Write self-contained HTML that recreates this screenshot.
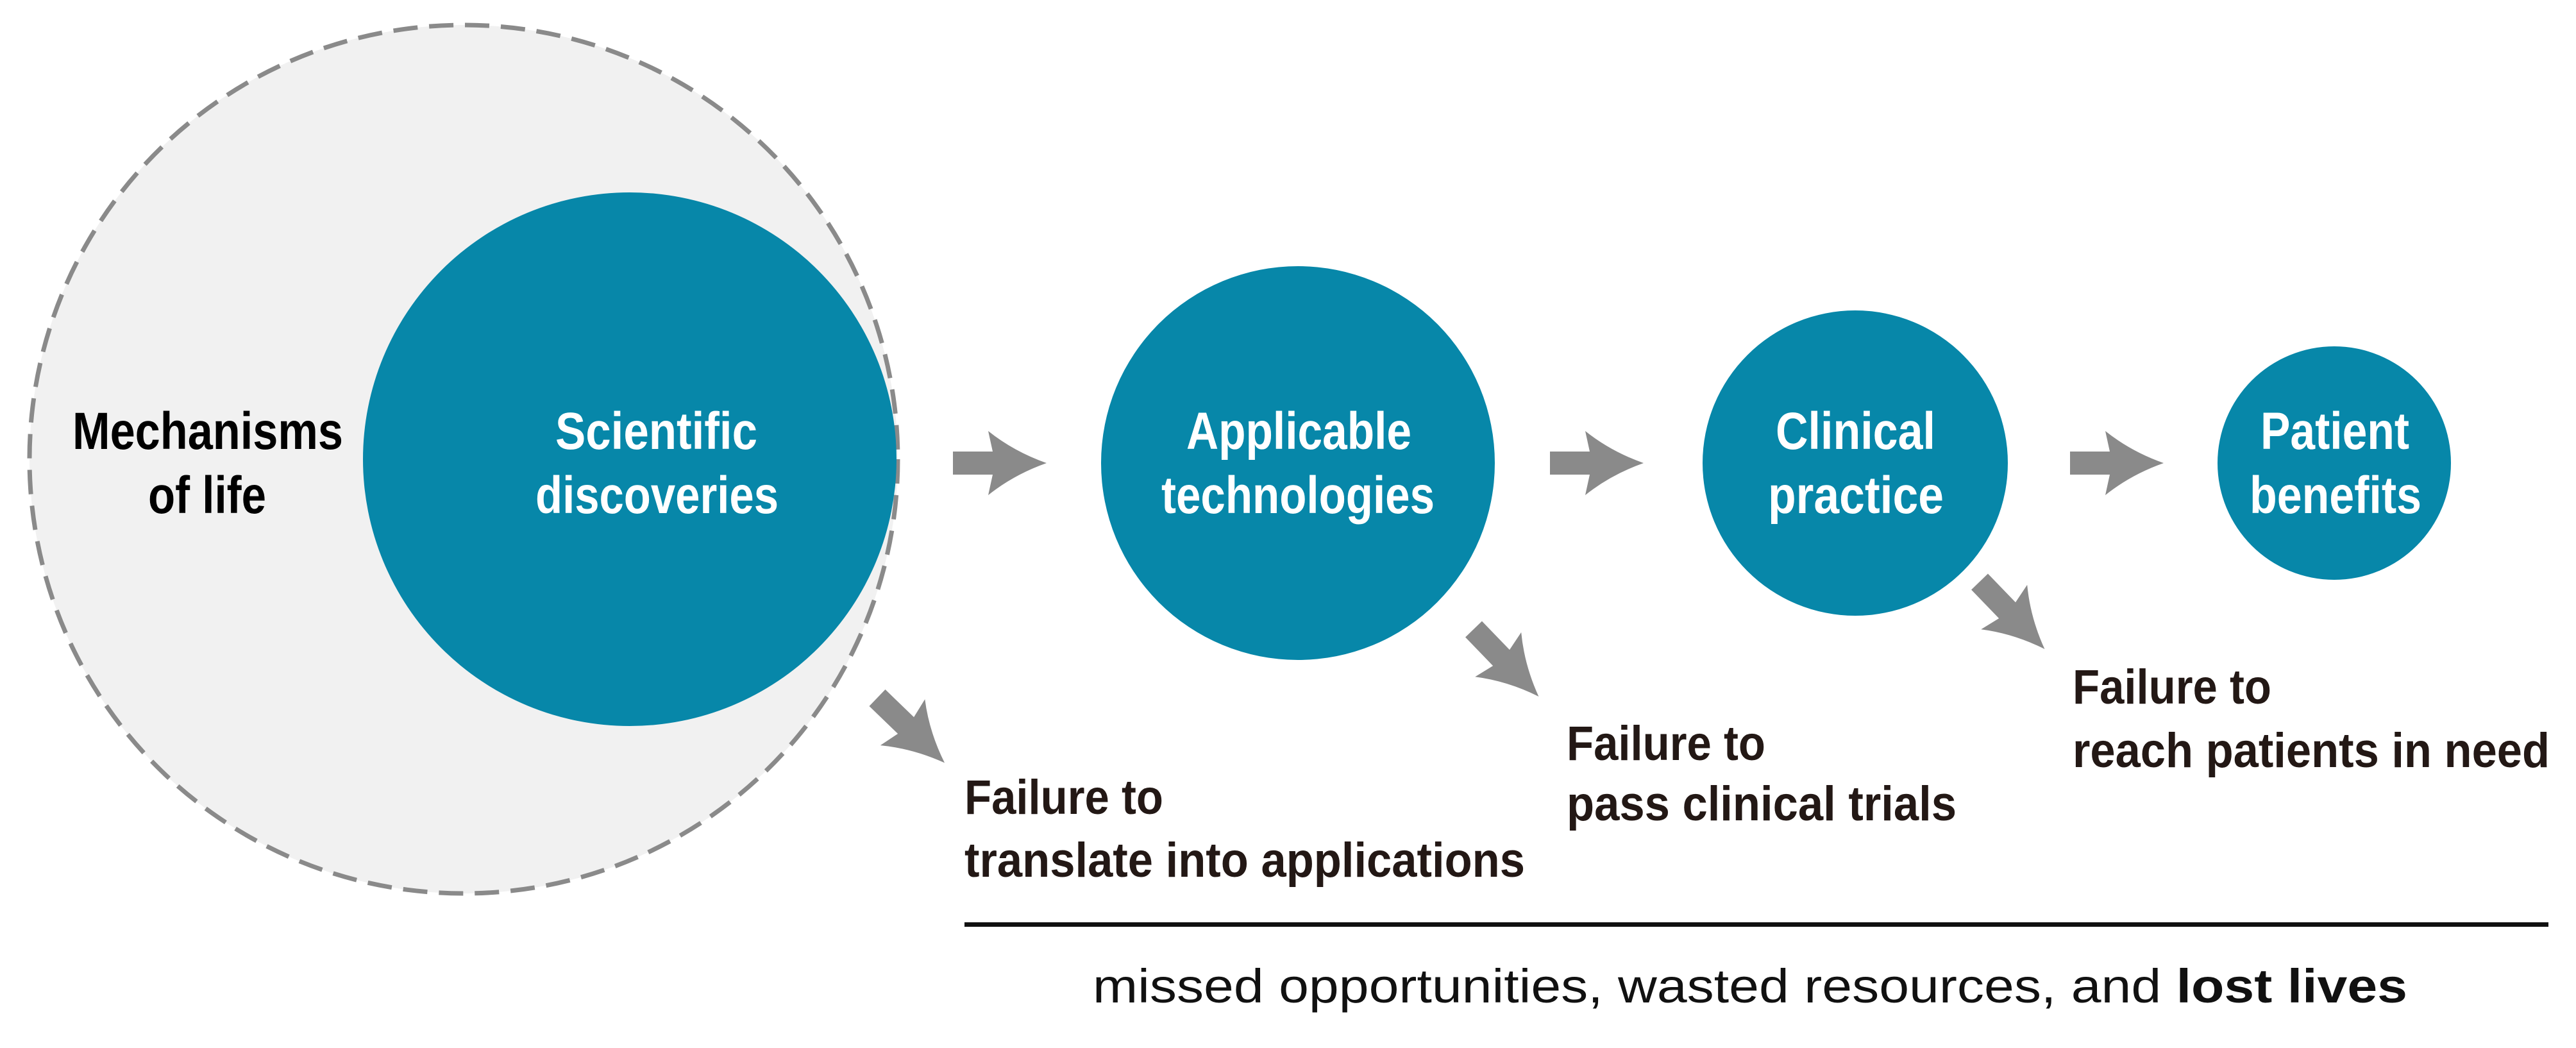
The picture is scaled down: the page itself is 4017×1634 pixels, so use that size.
<!DOCTYPE html>
<html><head><meta charset="utf-8"><style>
html,body{margin:0;padding:0;background:#fff;}
svg{display:block;}
.c{font-family:"Liberation Sans Narrow","Liberation Sans",sans-serif;font-weight:bold;font-size:82px;}
.f{font-family:"Liberation Sans Narrow","Liberation Sans",sans-serif;font-weight:bold;font-size:76px;fill:#231815;}
.b{font-family:"Liberation Sans",sans-serif;font-size:74px;fill:#111;}
</style></head><body>
<svg width="4017" height="1634" viewBox="0 0 4017 1634" xmlns="http://www.w3.org/2000/svg">
<defs>
<path id="arr" d="M0,-18 L62,-18 L55,-50 Q95,-18 146,0 Q95,18 55,50 L62,18 L0,18 Z" fill="#8a8a8a"/>
</defs>
<circle cx="723" cy="716" r="677" fill="#f1f1f1" stroke="#8a8a8a" stroke-width="7" stroke-dasharray="38 18"/>
<circle cx="982" cy="716" r="416" fill="#0787a9"/>
<circle cx="2024" cy="722" r="307" fill="#0787a9"/>
<circle cx="2893" cy="722" r="238" fill="#0787a9"/>
<circle cx="3640" cy="722" r="182" fill="#0787a9"/>

<text class="c" fill="#000" x="113" y="700" textLength="422" lengthAdjust="spacingAndGlyphs">Mechanisms</text>
<text class="c" fill="#000" x="231" y="800" textLength="184" lengthAdjust="spacingAndGlyphs">of life</text>
<g fill="#fff">
<text class="c" x="866" y="700" textLength="315" lengthAdjust="spacingAndGlyphs">Scientific</text>
<text class="c" x="835" y="800" textLength="379" lengthAdjust="spacingAndGlyphs">discoveries</text>
<text class="c" x="1850" y="700" textLength="351" lengthAdjust="spacingAndGlyphs">Applicable</text>
<text class="c" x="1811" y="800" textLength="426" lengthAdjust="spacingAndGlyphs">technologies</text>
<text class="c" x="2769" y="700" textLength="249" lengthAdjust="spacingAndGlyphs">Clinical</text>
<text class="c" x="2757" y="800" textLength="274" lengthAdjust="spacingAndGlyphs">practice</text>
<text class="c" x="3525" y="700" textLength="232" lengthAdjust="spacingAndGlyphs">Patient</text>
<text class="c" x="3508" y="800" textLength="268" lengthAdjust="spacingAndGlyphs">benefits</text>
</g>

<use href="#arr" transform="translate(1486,722)"/>
<use href="#arr" transform="translate(2417,722)"/>
<use href="#arr" transform="translate(3228,722)"/>
<use href="#arr" transform="translate(1368,1088) rotate(44)"/>
<use href="#arr" transform="translate(2298,981) rotate(46)"/>
<use href="#arr" transform="translate(3087,907) rotate(46)"/>

<text class="f" x="1504" y="1269" textLength="310" lengthAdjust="spacingAndGlyphs">Failure to</text>
<text class="f" x="1504" y="1367" textLength="874" lengthAdjust="spacingAndGlyphs">translate into applications</text>
<text class="f" x="2443" y="1185" textLength="310" lengthAdjust="spacingAndGlyphs">Failure to</text>
<text class="f" x="2443" y="1279" textLength="608" lengthAdjust="spacingAndGlyphs">pass clinical trials</text>
<text class="f" x="3232" y="1097" textLength="310" lengthAdjust="spacingAndGlyphs">Failure to</text>
<text class="f" x="3232" y="1196" textLength="744" lengthAdjust="spacingAndGlyphs">reach patients in need</text>

<rect x="1504" y="1438" width="2470" height="7" fill="#111"/>
<text class="b" x="1704" y="1563" textLength="2050" lengthAdjust="spacingAndGlyphs">missed opportunities, wasted resources, and <tspan font-weight="bold">lost lives</tspan></text>
</svg>
</body></html>
